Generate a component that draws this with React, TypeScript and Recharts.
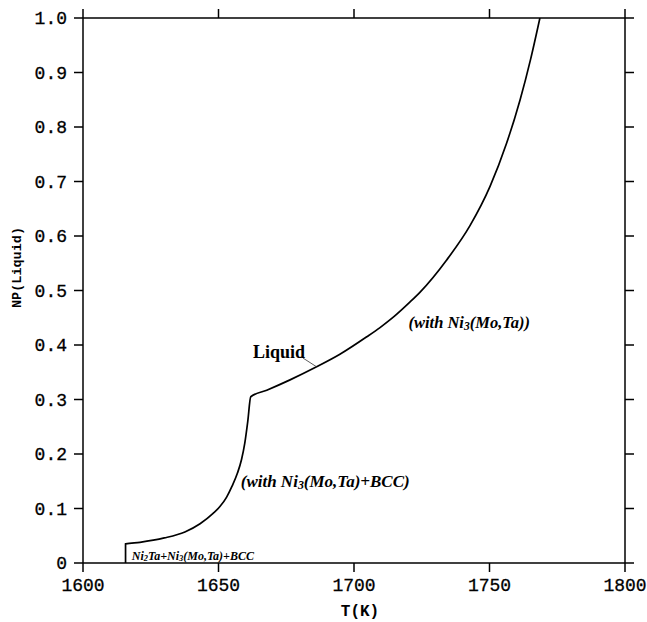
import React from "react";
import { LineChart, Line, XAxis, YAxis, ReferenceDot, ReferenceLine } from "recharts";

// Liquid phase fraction vs temperature (solidification path)
const temperatureK = [
  1615.7, 1615.7, 1621, 1630, 1637.6, 1643.2, 1648, 1650.6, 1653, 1655, 1657, 1658.5, 1659.7,
  1660.8, 1661.9, 1667.8, 1676.4, 1686.2, 1694.8, 1704.7, 1709.6, 1714.5, 1720.7, 1724.4, 1734.2,
  1742.8, 1750.2, 1756.3, 1761.3, 1765.2, 1768.6,
];
const npLiquid = [
  0, 0.035, 0.038, 0.046, 0.057, 0.072, 0.091, 0.104, 0.121, 0.141, 0.165, 0.19, 0.22,
  0.26, 0.305, 0.317, 0.336, 0.36, 0.383, 0.415, 0.432, 0.451, 0.479, 0.497, 0.556,
  0.619, 0.691, 0.77, 0.85, 0.925, 1.0,
];

const xTicks = [1600, 1650, 1700, 1750, 1800];
const yTicks = [0, 0.1, 0.2, 0.3, 0.4, 0.5, 0.6, 0.7, 0.8, 0.9, 1.0];
const yTickLabels = ["0", "0.1", "0.2", "0.3", "0.4", "0.5", "0.6", "0.7", "0.8", "0.9", "1.0"];

const curve = temperatureK.map((t, i) => ({ t, np: npLiquid[i] }));

const mono = "'Liberation Mono', 'Courier New', monospace";
const serif = "'Liberation Serif', 'Times New Roman', serif";

const tickStyle = { fontFamily: mono, fontSize: 18, fill: "#000", stroke: "#000", strokeWidth: 0.3 };
const axisLine = { stroke: "#000", strokeWidth: 1.5 };

type Part = { text: string; sub?: boolean };

// Text anchored at a data point (left/baseline), with optional subscripts
function Annot(props: any) {
  const { viewBox, parts, size, italic, bold } = props;
  if (!viewBox) return null;
  const subSize = size * 0.7;
  const out: React.ReactNode[] = [];
  let lowered = false;
  parts.forEach((p: Part, i: number) => {
    let dy = 0;
    if (p.sub && !lowered) {
      dy = size * 0.12;
      lowered = true;
    } else if (!p.sub && lowered) {
      dy = -size * 0.12;
      lowered = false;
    }
    out.push(
      <tspan key={i} dy={dy} fontSize={p.sub ? subSize : size}>
        {p.text}
      </tspan>
    );
  });
  return (
    <text
      x={viewBox.x}
      y={viewBox.y}
      fontFamily={serif}
      fontSize={size}
      fontStyle={italic ? "italic" : "normal"}
      fontWeight={bold ? "bold" : "normal"}
      fill="#000"
    >
      {out}
    </text>
  );
}

function YTitle(props: any) {
  const { viewBox } = props;
  if (!viewBox) return null;
  const x = viewBox.x - 6;
  const y = viewBox.y + viewBox.height / 2 - 23;
  return (
    <text
      x={x}
      y={y}
      transform={`rotate(-90, ${x}, ${y})`}
      textAnchor="middle"
      dominantBaseline="central"
      fontFamily={mono}
      fontWeight="bold"
      fontSize={13.5}
      fill="#000"
    >
      NP(Liquid)
    </text>
  );
}

function XTitle(props: any) {
  const { viewBox } = props;
  if (!viewBox) return null;
  return (
    <text
      x={viewBox.x + viewBox.width / 2 + 6}
      y={viewBox.y + 53}
      textAnchor="middle"
      fontFamily={mono}
      fontWeight="bold"
      fontSize={16}
      fill="#000"
    >
      T(K)
    </text>
  );
}

const withNi3: Part[] = [
  { text: "(with Ni" },
  { text: "3", sub: true },
  { text: "(Mo,Ta))" },
];
const withNi3Bcc: Part[] = [
  { text: "(with Ni" },
  { text: "3", sub: true },
  { text: "(Mo,Ta)+BCC)" },
];
const threePhase: Part[] = [
  { text: "Ni" },
  { text: "2", sub: true },
  { text: "Ta+Ni" },
  { text: "3", sub: true },
  { text: "(Mo,Ta)+BCC" },
];

export default function App() {
  return (
    <div style={{ position: "absolute", left: 0, top: 0, background: "#fff" }}>
      <LineChart width={647} height={622} data={curve} margin={{ top: 8, right: 12, bottom: 19, left: 23 }}>
        <XAxis
          dataKey="t"
          type="number"
          domain={[1600, 1800]}
          ticks={xTicks}
          allowDataOverflow
          height={40}
          tickSize={9}
          tickMargin={6}
          tick={tickStyle}
          axisLine={axisLine}
          tickLine={axisLine}
          label={<XTitle />}
        />
        <XAxis
          xAxisId="top"
          dataKey="t"
          orientation="top"
          type="number"
          domain={[1600, 1800]}
          ticks={xTicks}
          allowDataOverflow
          height={10}
          tickSize={9}
          tickFormatter={() => ""}
          axisLine={axisLine}
          tickLine={axisLine}
        />
        <YAxis
          type="number"
          domain={[0, 1]}
          ticks={yTicks}
          allowDataOverflow
          width={60}
          tickSize={9}
          tickMargin={7}
          tick={tickStyle}
          tickFormatter={(v: number) => yTickLabels[yTicks.indexOf(v)] ?? String(v)}
          axisLine={axisLine}
          tickLine={axisLine}
          label={<YTitle />}
        />
        <YAxis
          yAxisId="right"
          orientation="right"
          type="number"
          domain={[0, 1]}
          ticks={yTicks}
          allowDataOverflow
          width={10}
          tickSize={9}
          tickFormatter={() => ""}
          axisLine={axisLine}
          tickLine={axisLine}
        />
        {/* same curve on the mirror axes, kept invisible so they get a scale */}
        <Line
          xAxisId="top"
          yAxisId="right"
          type="monotone"
          dataKey="np"
          stroke="none"
          dot={false}
          activeDot={false}
          isAnimationActive={false}
        />
        <Line
          type="monotone"
          dataKey="np"
          stroke="#000"
          strokeWidth={1.7}
          dot={false}
          isAnimationActive={false}
        />
        <ReferenceLine
          segment={[
            { x: 1681.2, y: 0.376 },
            { x: 1686.2, y: 0.36 },
          ]}
          stroke="#333"
          strokeWidth={0.8}
        />
        <ReferenceDot
          x={1662.7}
          y={0.377}
          r={0}
          fill="none"
          stroke="none"
          label={<Annot parts={[{ text: "Liquid" }]} size={18} bold />}
        />
        <ReferenceDot
          x={1720.1}
          y={0.431}
          r={0}
          fill="none"
          stroke="none"
          label={<Annot parts={withNi3} size={16.5} bold italic />}
        />
        <ReferenceDot
          x={1658.2}
          y={0.14}
          r={0}
          fill="none"
          stroke="none"
          label={<Annot parts={withNi3Bcc} size={17} bold italic />}
        />
        <ReferenceDot
          x={1618.0}
          y={0.006}
          r={0}
          fill="none"
          stroke="none"
          label={<Annot parts={threePhase} size={12} bold italic />}
        />
      </LineChart>
    </div>
  );
}
